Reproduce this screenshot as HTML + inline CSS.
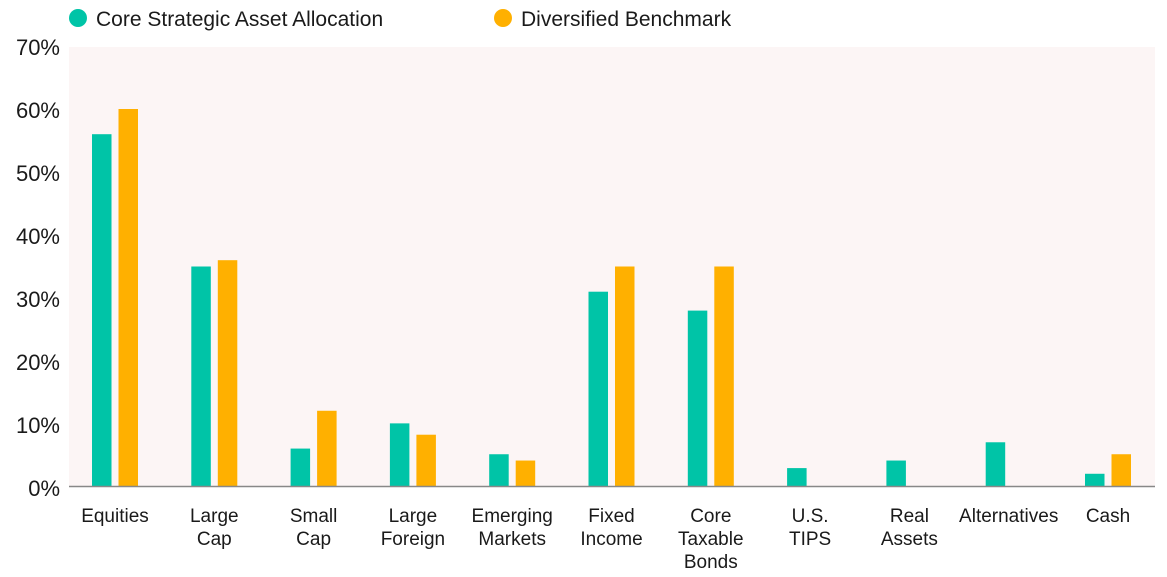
<!DOCTYPE html>
<html><head><meta charset="utf-8"><style>
body{margin:0;background:#fff;}
svg text{font-family:"Liberation Sans",sans-serif;fill:#1a1a1a;}
</style></head><body>
<svg width="1167" height="572" xmlns="http://www.w3.org/2000/svg">
<rect x="69" y="47" width="1086" height="440" fill="#fcf5f5"/>
<circle cx="78" cy="18" r="9" fill="#00c4a7"/>
<text x="96" y="26" font-size="21">Core Strategic Asset Allocation</text>
<circle cx="503" cy="18" r="9" fill="#ffb000"/>
<text x="521" y="26" font-size="21">Diversified Benchmark</text>
<g font-size="22" text-anchor="end">
<text x="60" y="55">70%</text><text x="60" y="118">60%</text><text x="60" y="181">50%</text>
<text x="60" y="244">40%</text><text x="60" y="307">30%</text><text x="60" y="370">20%</text>
<text x="60" y="433">10%</text><text x="60" y="496">0%</text>
</g>
<g id="bars"></g>
<line x1="69" y1="486.5" x2="1155" y2="486.5" stroke="#888" stroke-width="1.5"/>
<g font-size="19" text-anchor="middle" id="labels"></g>
</svg>
<script>
var d=[[56,60,["Equities"]],[35,36,["Large","Cap"]],[6.1,12.1,["Small","Cap"]],[10.1,8.3,["Large","Foreign"]],[5.2,4.2,["Emerging","Markets"]],[31,35,["Fixed","Income"]],[28,35,["Core","Taxable","Bonds"]],[3,0,["U.S.","TIPS"]],[4.2,0,["Real","Assets"]],[7.1,0,["Alternatives"]],[2.1,5.2,["Cash"]]];
var ns="http://www.w3.org/2000/svg",b=document.getElementById("bars"),l=document.getElementById("labels");
d.forEach(function(e,i){var x=92+i*99.3;
[[e[0],x,"#00c4a7"],[e[1],x+26.5,"#ffb000"]].forEach(function(v){if(v[0]<=0)return;var r=document.createElementNS(ns,"rect");var h=v[0]*6.3;r.setAttribute("x",v[1]);r.setAttribute("y",487-h);r.setAttribute("width",19.5);r.setAttribute("height",h);r.setAttribute("fill",v[2]);b.appendChild(r);});
e[2].forEach(function(s,j){var t=document.createElementNS(ns,"text");t.setAttribute("x",x+23);t.setAttribute("y",522+j*23);t.textContent=s;l.appendChild(t);});});
</script>
</body></html>
